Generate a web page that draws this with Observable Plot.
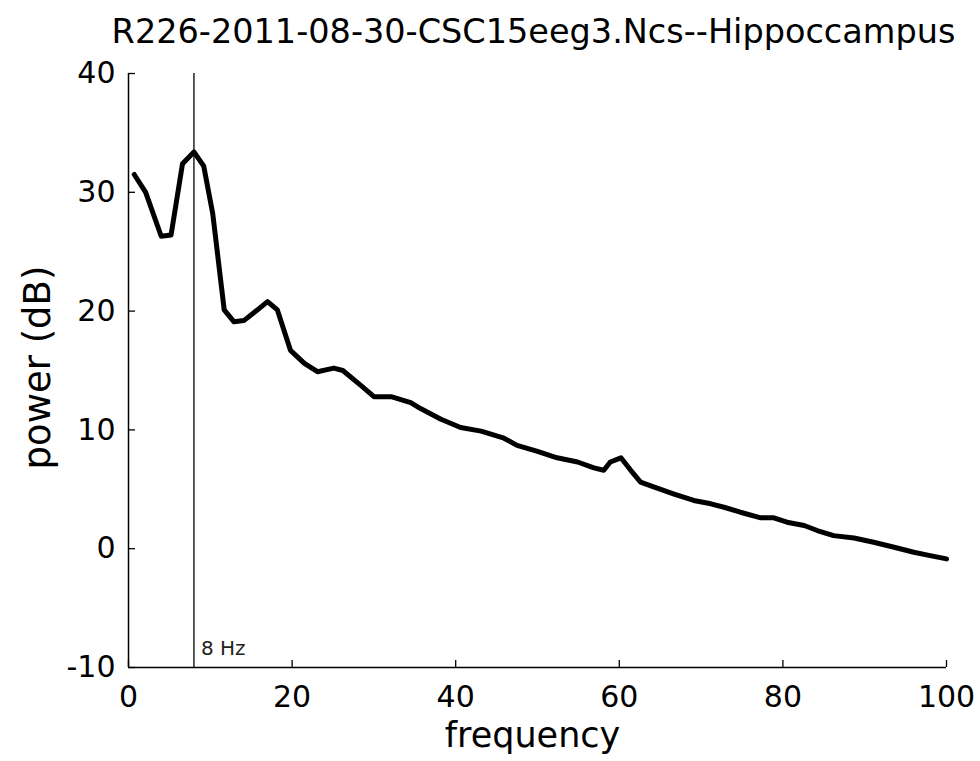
<!DOCTYPE html>
<html>
<head>
<meta charset="utf-8">
<script src="https://cdn.jsdelivr.net/npm/d3@7"></script>
<script src="https://cdn.jsdelivr.net/npm/@observablehq/plot@0.6"></script>
<style>
  html, body { margin: 0; padding: 0; background: #fff; }
  #chart svg { display: block; }
</style>
</head>
<body>
<div id="chart"></div>
<script>
const titleText = "R226-2011-08-30-CSC15eeg3.Ncs--Hippoccampus";
const xLabel = "frequency";
const yLabel = "power (dB)";
const markerFreq = 8;
const markerLabel = "8 Hz";

const frequency = [0.7, 2.1, 4.0, 5.2, 6.6, 8.0, 9.2, 10.3, 11.7, 12.9, 14.1, 15.4, 17.0, 18.2, 19.8, 21.5, 23.1, 25.1, 26.2, 28.4, 30.0, 32.1, 34.5, 35.7, 38.2, 40.6, 43.1, 45.9, 47.5, 50.0, 52.4, 54.9, 56.9, 58.1, 58.9, 60.2, 61.4, 62.6, 64.2, 66.7, 69.1, 71.2, 72.8, 74.8, 77.3, 78.9, 80.5, 82.6, 84.2, 86.2, 88.7, 91.1, 93.6, 96.0, 98.0, 100.0];
const power = [31.5, 30.0, 26.3, 26.4, 32.4, 33.4, 32.2, 28.2, 20.1, 19.1, 19.2, 19.9, 20.8, 20.1, 16.7, 15.6, 14.9, 15.2, 15.0, 13.75, 12.8, 12.8, 12.3, 11.8, 10.9, 10.2, 9.9, 9.3, 8.7, 8.2, 7.65, 7.3, 6.8, 6.6, 7.3, 7.65, 6.6, 5.6, 5.2, 4.6, 4.06, 3.78, 3.49, 3.07, 2.6, 2.6, 2.23, 1.95, 1.53, 1.1, 0.9, 0.54, 0.12, -0.3, -0.58, -0.86];

const xTicks = [0, 20, 40, 60, 80, 100];
const yTicks = [-10, 0, 10, 20, 30, 40];

const spectrum = frequency.map((f, i) => ({f, p: power[i]}));

const W = 980, H = 761;
const mL = 128, mR = 34, mT = 73, mB = 94;
const frameW = W - mL - mR, frameH = H - mT - mB;
const tickLen = 7;
const font = "'DejaVu Sans', sans-serif";

const chart = Plot.plot({
  width: W,
  height: H,
  marginLeft: mL,
  marginRight: mR,
  marginTop: mT,
  marginBottom: mB,
  style: {fontFamily: font, fontSize: "30px", color: "#000", background: "#fff", overflow: "visible"},
  x: {domain: [0, 100], ticks: xTicks},
  y: {domain: [-10, 40], ticks: yTicks},
  marks: [
    Plot.axisX({ticks: xTicks, tickSize: 0, tickPadding: 18, label: null, fontSize: 30, tickFormat: d => String(d)}),
    Plot.axisY({ticks: yTicks, tickSize: 0, tickPadding: 13, label: null, fontSize: 30, tickFormat: d => String(d)}),
    Plot.tickX(xTicks, {x: d => d, stroke: "#000", strokeWidth: 1.3, insetTop: frameH - tickLen}),
    Plot.tickY(yTicks, {y: d => d, stroke: "#000", strokeWidth: 1.3, insetRight: frameW - tickLen}),
    Plot.ruleX([0], {stroke: "#000", strokeWidth: 1.5}),
    Plot.ruleY([-10], {stroke: "#000", strokeWidth: 1.5}),
    Plot.ruleX([markerFreq], {stroke: "#000", strokeWidth: 1.3}),
    Plot.text([markerLabel], {x: () => markerFreq, text: d => d, frameAnchor: "bottom", textAnchor: "start", lineAnchor: "middle", dx: 7, dy: -19, fontSize: 20, fill: "#222", fontFamily: font}),
    Plot.line(spectrum, {x: "f", y: "p", stroke: "#000", strokeWidth: 5, strokeLinejoin: "round", strokeLinecap: "round"}),
    Plot.text([titleText], {text: d => d, frameAnchor: "top", textAnchor: "middle", lineAnchor: "middle", dx: -4, dy: -41.5, fontSize: 33.5, fill: "#000", fontFamily: font}),
    Plot.text([xLabel], {text: d => d, frameAnchor: "bottom", textAnchor: "middle", lineAnchor: "middle", dx: -5, dy: 68, fontSize: 35, fill: "#000", fontFamily: font}),
    Plot.text([yLabel], {text: d => d, frameAnchor: "left", rotate: -90, textAnchor: "middle", lineAnchor: "middle", dx: -90, dy: -3, fontSize: 37, fill: "#000", fontFamily: font})
  ]
});
document.getElementById("chart").appendChild(chart);
</script>
</body>
</html>
